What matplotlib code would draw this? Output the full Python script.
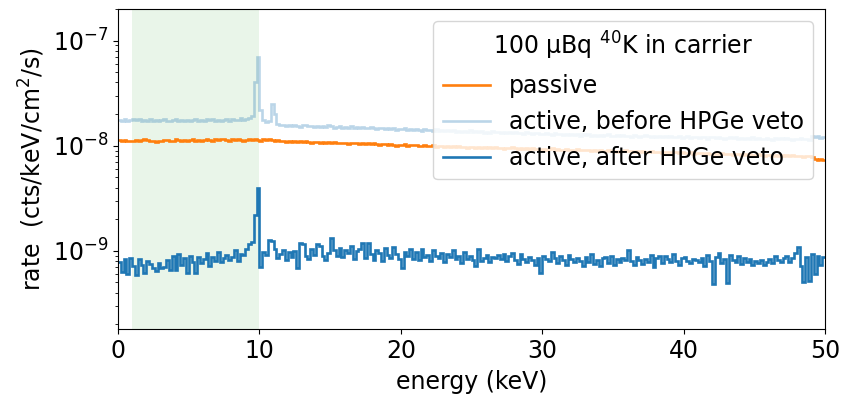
import numpy as np
import matplotlib
matplotlib.use("Agg")
import matplotlib.pyplot as plt

# energy binning (keV)
e_min, e_max, bin_width = 0.0, 50.0, 0.2

# active, after HPGe veto (units of 1e-10 cts/keV/cm^2/s), 5 bins per keV
after_veto = [
    7.8, 6.3, 8.4, 6.0, 8.6,   7.1, 5.9, 8.3, 7.4, 6.2,
    8.0, 7.5, 6.8, 6.4, 7.6,   6.9, 7.0, 8.2, 6.5, 8.9,
    6.6, 9.3, 7.3, 8.5, 6.2,   9.0, 7.8, 6.1, 8.8, 7.6,
    8.4, 9.5, 7.2, 8.7, 8.0,   9.8, 7.9, 8.6, 9.1, 8.2,
    8.8, 10.2, 8.0, 9.4, 9.1,  10.5, 11.5, 12.0, 22.0, 40.0,
    7.0, 9.8, 9.2, 12.8, 12.3, 10.3, 8.6, 9.4, 10.1, 8.2,
    9.7, 8.8, 10.0, 6.9, 11.8, 11.5, 9.0, 8.3, 10.4, 9.2,
    11.6, 11.2, 9.0, 8.1, 9.5, 13.2, 10.2, 9.0, 10.6, 8.8,
    10.1, 9.5, 11.0, 8.4, 9.9, 10.4, 11.9, 8.5, 11.8, 9.3,
    8.2, 10.2, 9.6, 8.0, 10.7, 9.1, 8.6, 10.8, 9.4, 8.3,
    6.9, 9.8, 8.9, 10.3, 8.4,  9.7, 8.1, 10.5, 8.8, 9.2,
    8.0, 10.1, 9.0, 8.5, 9.6,  7.9, 9.4, 8.7, 10.2, 8.3,
    9.0, 7.6, 9.8, 8.4, 8.9,   8.2, 7.1, 10.5, 8.0, 8.6,
    9.2, 7.8, 8.7, 8.5, 9.1,   8.3, 9.4, 8.0, 8.9, 9.6,
    8.1, 7.5, 9.3, 8.4, 7.9,   8.8, 8.2, 7.4, 8.6, 6.2,
    9.0, 8.3, 8.0, 9.8, 8.5,   7.6, 8.9, 8.2, 7.3, 9.1,
    8.4, 7.8, 8.6, 8.0, 7.2,   8.7, 7.9, 9.3, 7.5, 8.2,
    7.1, 8.6, 8.8, 7.7, 9.0,   7.4, 8.3, 7.8, 8.6, 8.1,
    10.1, 8.0, 7.3, 8.7, 8.2,  7.5, 8.4, 7.9, 9.1, 7.0,
    8.6, 8.9, 7.6, 9.0, 8.3,   7.8, 9.3, 8.0, 7.4, 8.5,
    8.8, 8.0, 7.7, 8.4, 8.1,   7.9, 8.6, 7.2, 9.2, 8.0,
    4.8, 8.7, 9.5, 7.6, 8.4,   4.9, 9.1, 8.2, 7.8, 8.9,
    7.5, 8.6, 7.9, 8.3, 7.4,   8.0, 7.6, 8.2, 7.3, 7.8,
    8.4, 7.7, 8.9, 8.1, 7.9,   8.6, 9.0, 7.8, 8.5, 9.6,
    10.8, 7.2, 5.0, 8.8, 5.2,  9.3, 6.0, 9.0, 7.4, 8.7,
]

# active, before HPGe veto (units of 1e-9)
before_veto = [
    17.6, 17.0, 17.9, 17.3, 17.5, 18.0, 17.4, 17.8, 17.1, 17.6,
    17.3, 17.9, 17.2, 17.7, 17.0, 17.5, 17.8, 17.2, 17.0, 17.6,
    17.9, 17.3, 17.6, 17.1, 17.4, 17.0, 17.5, 17.8, 17.2, 17.6,
    17.3, 17.9, 17.4, 18.1, 17.2, 17.6, 17.0, 17.5, 18.0, 17.3,
    17.8, 17.4, 17.6, 18.2, 17.7, 18.0, 18.3, 19.0, 40.0, 70.0,
    22.0, 17.5, 16.8, 17.0, 25.0, 20.0, 16.0, 15.6, 15.9, 15.4,
    15.7, 15.3, 15.8, 15.5, 15.2, 15.6, 15.9, 15.3, 15.5, 15.1,
    15.4, 15.0, 15.5, 15.2, 15.6, 15.3, 14.9, 15.2, 15.4, 14.8,
    15.1, 14.8, 15.3, 14.9, 15.0, 14.7, 15.2, 14.9, 14.6, 15.0,
    14.8, 14.5, 14.9, 14.6, 14.3, 14.7, 14.4, 14.8, 14.2, 14.5,
    14.3, 14.6, 14.1, 14.4, 14.0, 14.5, 14.2, 13.9, 14.3, 14.0,
    14.1, 13.8, 14.3, 13.9, 14.2, 13.7, 14.0, 13.8, 14.1, 13.6,
    13.9, 13.5, 13.8, 13.6, 14.0, 13.4, 13.7, 13.5, 13.8, 13.3,
    13.6, 13.3, 13.7, 13.4, 13.5, 13.2, 13.5, 13.3, 13.6, 13.1,
    13.4, 13.1, 13.3, 13.0, 13.4, 13.2, 12.9, 13.1, 13.3, 12.8,
    13.0, 13.2, 12.9, 12.7, 13.1, 12.8, 13.0, 12.7, 12.9, 12.6,
    12.9, 12.6, 12.8, 12.5, 12.8, 12.6, 12.9, 12.5, 12.7, 12.4,
    12.7, 12.4, 12.6, 12.8, 12.5, 12.3, 12.6, 12.4, 12.7, 12.3,
    12.5, 12.2, 12.6, 12.4, 12.1, 12.4, 12.6, 12.3, 12.1, 12.5,
    12.2, 12.4, 12.0, 12.3, 12.1, 12.3, 12.0, 12.2, 12.4, 11.9,
    12.1, 12.3, 11.9, 12.2, 12.0, 11.8, 12.1, 12.0, 11.7, 12.2,
    12.0, 11.8, 12.1, 11.9, 11.7, 11.9, 12.2, 11.8, 12.0, 11.6,
    11.8, 11.5, 11.9, 11.7, 12.0, 11.6, 11.9, 11.7, 11.5, 11.8,
    11.7, 11.4, 11.8, 11.6, 11.9, 11.5, 11.8, 11.6, 11.4, 11.7,
    11.6, 11.9, 11.5, 11.7, 11.4, 12.4, 12.0, 12.3, 11.8, 12.1,
]

# passive (units of 1e-9)
passive = [
    11.3, 11.1, 11.4, 11.2, 11.0, 11.2, 11.4, 11.1, 11.3, 11.5,
    11.3, 11.1, 11.2, 10.9, 11.0, 11.2, 11.4, 11.3, 11.0, 11.2,
    11.5, 11.3, 11.1, 11.4, 11.2, 11.3, 11.5, 11.2, 11.4, 11.1,
    11.3, 11.6, 11.4, 11.2, 11.5, 11.3, 11.5, 11.7, 11.4, 11.2,
    11.5, 11.3, 11.6, 11.4, 11.2, 11.4, 11.6, 11.3, 11.5, 11.4,
    11.2, 11.5, 11.3, 11.7, 11.4, 11.1, 11.3, 11.0, 11.2, 10.9,
    11.1, 10.8, 11.0, 10.9, 11.1, 10.8, 11.0, 10.9, 10.7, 10.9,
    10.8, 10.6, 10.9, 10.7, 10.8, 10.6, 10.8, 10.5, 10.7, 10.6,
    10.7, 10.4, 10.6, 10.5, 10.7, 10.4, 10.6, 10.3, 10.5, 10.4,
    10.5, 10.3, 10.2, 10.4, 10.3, 10.1, 10.3, 10.2, 10.0, 10.2,
    10.1, 10.3, 10.0, 10.2, 10.1, 10.2, 10.0, 9.9, 10.1, 10.0,
    9.9, 10.1, 9.8, 10.0, 9.9, 9.8, 10.0, 9.7, 9.9, 9.8,
    9.9, 9.7, 9.8, 9.6, 9.8, 9.7, 9.5, 9.8, 9.6, 9.7,
    9.6, 9.8, 9.5, 9.7, 9.5, 9.6, 9.4, 9.6, 9.5, 9.7,
    9.5, 9.3, 9.5, 9.4, 9.6, 9.4, 9.5, 9.3, 9.4, 9.2,
    9.4, 9.2, 9.3, 9.5, 9.2, 9.3, 9.1, 9.2, 9.4, 9.1,
    9.2, 9.0, 9.3, 9.1, 9.2, 9.1, 9.2, 9.0, 9.1, 8.9,
    9.1, 8.9, 9.0, 9.2, 8.9, 9.0, 8.8, 9.0, 8.9, 9.1,
    8.9, 9.0, 8.8, 8.9, 8.7, 8.9, 8.7, 8.8, 9.0, 8.8,
    8.7, 8.8, 8.6, 8.8, 8.7, 8.6, 8.8, 8.7, 8.5, 8.7,
    8.6, 8.5, 8.7, 8.4, 8.6, 8.5, 8.6, 8.4, 8.5, 8.3,
    8.4, 8.5, 8.3, 8.5, 8.4, 8.3, 8.4, 8.2, 8.4, 8.3,
    8.2, 8.3, 8.1, 8.3, 8.2, 8.1, 8.3, 8.2, 8.0, 8.2,
    8.1, 8.0, 8.2, 8.0, 8.1, 8.0, 8.1, 7.9, 8.1, 8.0,
    7.9, 8.0, 7.8, 8.0, 7.9, 7.8, 7.5, 7.3, 7.4, 7.3,
]

roi = (1.0, 10.0)
legend_title = "100 µBq $^{40}$K in carrier"
labels = ["passive", "active, before HPGe veto", "active, after HPGe veto"]
x_ticks = [0, 10, 20, 30, 40, 50]

plt.rcParams["font.family"] = ["DejaVu Sans"]
plt.rcParams["font.size"] = 17

fig = plt.figure(figsize=(8.41, 4.04), dpi=100)
ax = fig.add_axes([0.1403, 0.1856, 0.981 - 0.1403, 0.9777 - 0.1856])

edges = np.linspace(e_min, e_max, len(after_veto) + 1)

ax.axvspan(roi[0], roi[1], color="tab:green", alpha=0.1, lw=0)
ax.stairs(np.array(before_veto) * 1e-9, edges, baseline=None, color="tab:blue",
          alpha=0.3, lw=1.9, label=labels[1])
ax.stairs(np.array(passive) * 1e-9, edges, baseline=None, color="tab:orange",
          lw=1.9, label=labels[0])
ax.stairs(np.array(after_veto) * 1e-10, edges, baseline=None, color="tab:blue",
          lw=1.9, label=labels[2])

ax.set_yscale("log")
ax.set_xlim(e_min, e_max)
ax.set_ylim(1.8e-10, 2.0e-7)
ax.set_xticks(x_ticks)
ax.set_xlabel("energy (keV)", labelpad=5)
ax.set_ylabel("rate  (cts/keV/cm$^2$/s)")

handles, labs = ax.get_legend_handles_labels()
order = [labs.index(l) for l in labels]
leg = ax.legend([handles[i] for i in order], [labs[i] for i in order],
                title=legend_title, loc="upper right", framealpha=0.8,
                title_fontsize=17, fontsize=17)

fig.savefig("out.png", dpi=100)
